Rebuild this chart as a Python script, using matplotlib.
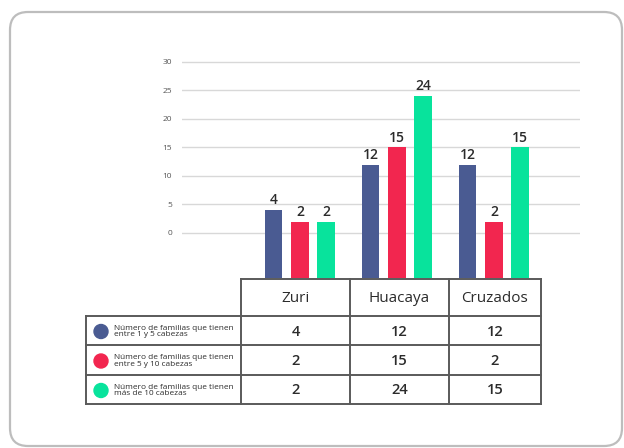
import matplotlib.pyplot as plt
import matplotlib.patches as mpatches
import numpy as np

# ── data ──────────────────────────────────────────────────────────────────────
categories = ["Zuri", "Huacaya", "Cruzados"]
series_labels = [
    "Número de familias que tienen\nentre 1 y 5 cabezas",
    "Número de familias que tienen\nentre 5 y 10 cabezas",
    "Número de familias que tienen\nmás de 10 cabezas",
]
v_1a5 = [4, 12, 12]
v_5a10 = [2, 15, 2]
v_mas10 = [2, 24, 15]
yticks = [0, 5, 10, 15, 20, 25, 30]

# ── colours ───────────────────────────────────────────────────────────────────
C_BLUE = "#4a5b92"
C_RED = "#f2264f"
C_GREEN = "#08e39c"
C_GRID = "#d8d8d8"
C_LINE = "#5a5a5a"
C_TXT = "#2b2b2b"
colors = [C_BLUE, C_RED, C_GREEN]
series = [v_1a5, v_5a10, v_mas10]

W, H = 624, 448
plt.rcParams["font.family"] = ["Open Sans", "DejaVu Sans"]
fig = plt.figure(figsize=(W / 100, H / 100), dpi=100)
fig.patch.set_facecolor("white")


def fx(px):
    return px / W


def fy(py):
    return 1 - py / H


# overlay axes in pixel coordinates (frame + table)
ov = fig.add_axes([0, 0, 1, 1])
ov.set_xlim(0, W)
ov.set_ylim(H, 0)
ov.axis("off")

frame = mpatches.FancyBboxPatch(
    (28, 30), 576, 398,
    boxstyle="round,pad=18,rounding_size=18",
    linewidth=1.6, edgecolor="#bdbdbd", facecolor="none")
ov.add_patch(frame)

# ── bar chart ─────────────────────────────────────────────────────────────────
x0, x1, ytop, ybot = 182, 580, 55, 278
ax = fig.add_axes([fx(x0), fy(ybot), fx(x1 - x0), (ybot - ytop) / H])
BASE = -7.9
ax.set_ylim(BASE, 31.2)
ax.set_xlim(-1.216, 2.887)
for s in ax.spines.values():
    s.set_visible(False)
ax.set_xticks([])
ax.set_yticks(yticks)
ax.tick_params(axis="y", length=0, labelsize=6, labelcolor="#555555", pad=7)
ax.grid(axis="y", color=C_GRID, lw=1.0)
ax.set_axisbelow(True)

x = np.arange(len(categories))
offs = [-0.27, 0.0, 0.27]
bw = 0.18
for vals, off, col in zip(series, offs, colors):
    vals = np.array(vals)
    bars = ax.bar(x + off, vals - BASE, bottom=BASE, width=bw, color=col, zorder=3)
    for b, v in zip(bars, vals):
        ax.text(b.get_x() + b.get_width() / 2, v + 0.5, str(v),
                ha="center", va="bottom", fontsize=10, fontweight="semibold",
                color=C_TXT, zorder=4)

# ── table ─────────────────────────────────────────────────────────────────────
col_x = [241, 350, 449, 541]
row_y = [279, 316, 345, 375, 404]
left_x = 86
lw = 1.4

ov.plot([col_x[0], col_x[-1]], [row_y[0], row_y[0]], color=C_LINE, lw=lw)
for cx in col_x:
    ov.plot([cx, cx], [row_y[0], row_y[-1]], color=C_LINE, lw=lw)
for ry in row_y[1:]:
    ov.plot([left_x, col_x[-1]], [ry, ry], color=C_LINE, lw=lw)
ov.plot([left_x, left_x], [row_y[1], row_y[-1]], color=C_LINE, lw=lw)

for j, cat in enumerate(categories):
    ov.text((col_x[j] + col_x[j + 1]) / 2, (row_y[0] + row_y[1]) / 2 + 1, cat,
            ha="center", va="center", fontsize=11, color=C_TXT)

for i, (lab, vals, col) in enumerate(zip(series_labels, series, colors)):
    cy = (row_y[i + 1] + row_y[i + 2]) / 2
    ov.add_patch(mpatches.Ellipse((101, cy + 1), 14, 14, color=col))
    ov.text(114, cy + 1, lab, ha="left", va="center", fontsize=5.95,
            color=C_TXT, linespacing=0.85)
    for j, v in enumerate(vals):
        ov.text((col_x[j] + col_x[j + 1]) / 2, cy + 1, str(v),
                ha="center", va="center", fontsize=10.5, fontweight="semibold",
                color=C_TXT)

fig.savefig("out.png", dpi=100, facecolor="white")
